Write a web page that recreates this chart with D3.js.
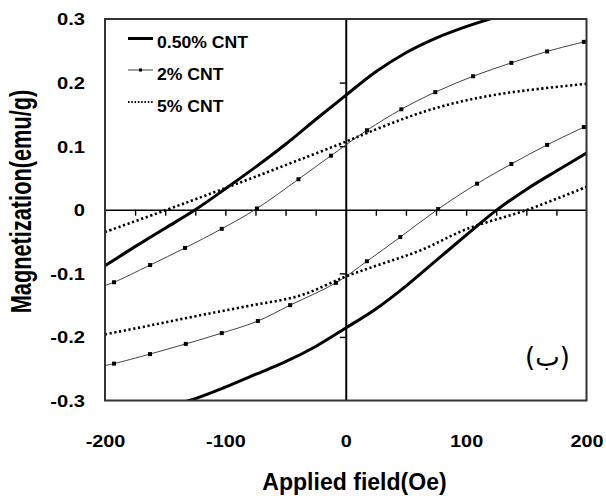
<!DOCTYPE html>
<html><head><meta charset="utf-8">
<script src="https://cdn.jsdelivr.net/npm/d3@7"></script>
<style>html,body{margin:0;padding:0;background:#fff;} svg{display:block;}</style>
</head><body>
<svg id="chart" width="606" height="496"></svg>
<script>
// ---------- data ----------
const seriesLabels = ["0.50% CNT", "2% CNT", "5% CNT"];
const xTickLabels = [-200, -100, 0, 100, 200];
const yTickLabels = [-0.3, -0.2, -0.1, 0, 0.1, 0.2, 0.3];
const xMinorTicks = [-175, -150, -125, -100, -75, -50, -25, 25, 50, 75, 100, 125, 150, 175];
const yAxisTicks = [-0.2, -0.1, 0.1, 0.2];
const xTitle = "Applied field(Oe)";
const yTitle = "Magnetization(emu/g)";
const panelLabel = "(ب)";

const cnt05UpField = [-200, -175, -150, -125, -100, -75, -50, -25, 0, 25, 50, 75, 100, 125, 150];
const cnt05UpMag   = [-0.088, -0.058, -0.029, 0, 0.033, 0.067, 0.103, 0.142, 0.18, 0.217, 0.247, 0.27, 0.288, 0.303, 0.316];
const cnt05LowField = [-150, -125, -100, -75, -50, -25, 0, 25, 50, 75, 100, 125, 150, 175, 200];
const cnt05LowMag   = [-0.31, -0.297, -0.279, -0.259, -0.239, -0.215, -0.186, -0.156, -0.12, -0.08, -0.04, -0.001, 0.032, 0.061, 0.089];

const cnt2UpField = [-200, -192.5, -162.5, -133.5, -103, -73.8, -39.3, -12.3, 17.6, 46.2, 74.4, 105.8, 137.6, 167.3, 197.8, 200];
const cnt2UpMag   = [-0.119, -0.114, -0.087, -0.06, -0.03, 0.002, 0.048, 0.085, 0.125, 0.158, 0.185, 0.21, 0.231, 0.249, 0.264, 0.265];
const cnt2LowField = [-200, -192.5, -162.6, -132.9, -103, -73, -46.2, -8.2, 17.6, 45.3, 76.7, 109.1, 137.6, 167.3, 197.8, 200];
const cnt2LowMag   = [-0.245, -0.242, -0.227, -0.211, -0.194, -0.175, -0.15, -0.115, -0.081, -0.043, 0.001, 0.041, 0.072, 0.102, 0.13, 0.132];

const cnt5UpField = [-200, -150, -110, -75, -38, 0, 18, 45, 73, 100, 128, 160, 200];
const cnt5UpMag   = [-0.035, -0.001, 0.027, 0.052, 0.079, 0.107, 0.121, 0.141, 0.159, 0.172, 0.182, 0.19, 0.198];
const cnt5LowField = [-200, -160, -121, -80, -38, 0, 30, 62, 101, 151, 200];
const cnt5LowMag   = [-0.196, -0.181, -0.166, -0.151, -0.135, -0.105, -0.085, -0.064, -0.03, 0, 0.036];

// ---------- layout ----------
const L = 105, R = 586.5, T = 19, B = 400.5;
const svg = d3.select("#chart");
const x = d3.scaleLinear().domain([-200, 200]).range([L, R]);
const y = d3.scaleLinear().domain([-0.3, 0.3]).range([B, T]);
const FONT = "'Liberation Sans', Arial, sans-serif";
const hy = s => String(s).replace("\u2212", "-");

function stretch(sel, factor) {
  sel.each(function () {
    const w = this.getComputedTextLength();
    d3.select(this).attr("textLength", w * factor).attr("lengthAdjust", "spacingAndGlyphs");
  });
}

svg.append("defs").append("clipPath").attr("id", "plotclip")
  .append("rect").attr("x", L).attr("y", T).attr("width", R - L).attr("height", B - T);

// zero axes with ticks
const gx0 = svg.append("g").attr("transform", `translate(0,${y(0)})`)
  .call(d3.axisBottom(x).tickValues(xMinorTicks).tickSizeInner(6).tickSizeOuter(0).tickFormat(""));
gx0.select(".domain").attr("stroke", "#000").attr("stroke-width", 1.6);
gx0.selectAll(".tick line").attr("stroke", "#000").attr("stroke-width", 1.4);

const gy0 = svg.append("g").attr("transform", `translate(${x(0)},0)`)
  .call(d3.axisLeft(y).tickValues(yAxisTicks).tickSizeInner(6).tickSizeOuter(0).tickFormat(""));
gy0.select(".domain").attr("stroke", "#000").attr("stroke-width", 2);
gy0.selectAll(".tick line").attr("stroke", "#000").attr("stroke-width", 1.4);

// curves
const lineGen = d3.line().x(d => x(d[0])).y(d => y(d[1])).curve(d3.curveCatmullRom.alpha(0.5));
const pairs = (a, b) => a.map((v, i) => [v, b[i]]);
const plot = svg.append("g").attr("clip-path", "url(#plotclip)");

const series = [
  { branches: [pairs(cnt05UpField, cnt05UpMag), pairs(cnt05LowField, cnt05LowMag)], width: 3, dash: null, color: "#000", markers: false },
  { branches: [pairs(cnt2UpField, cnt2UpMag), pairs(cnt2LowField, cnt2LowMag)], width: 1, dash: null, color: "#444", markers: true },
  { branches: [pairs(cnt5UpField, cnt5UpMag), pairs(cnt5LowField, cnt5LowMag)], width: 2.6, dash: "2.2,2.6", color: "#000", markers: false }
];

series.forEach(s => {
  s.branches.forEach(br => {
    plot.append("path").attr("d", lineGen(br)).attr("fill", "none")
      .attr("stroke", s.color).attr("stroke-width", s.width)
      .attr("stroke-dasharray", s.dash);
    if (s.markers) {
      plot.selectAll(null).data(br.filter(d => Math.abs(d[0]) < 200)).enter().append("rect")
        .attr("x", d => x(d[0]) - 2).attr("y", d => y(d[1]) - 2)
        .attr("width", 4).attr("height", 4).attr("fill", "#000");
    }
  });
});

// frame
svg.append("rect").attr("x", L).attr("y", T).attr("width", R - L).attr("height", B - T)
  .attr("fill", "none").attr("stroke", "#333").attr("stroke-width", 2);

// tick labels
const gxl = svg.append("g").attr("transform", `translate(0,${B})`)
  .call(d3.axisBottom(x).tickValues(xTickLabels).tickSize(0).tickPadding(0).tickFormat(d => hy(d3.format("d")(d))));
gxl.select(".domain").remove();
gxl.selectAll("text").attr("font-family", FONT).attr("font-weight", "bold").attr("font-size", 16.5)
  .attr("fill", "#000").attr("dy", null).attr("y", 46.5).call(stretch, 1.2);

const gyl = svg.append("g").attr("transform", `translate(${L},0)`)
  .call(d3.axisLeft(y).tickValues(yTickLabels).tickSize(0).tickPadding(0).tickFormat(d => d === 0 ? "0" : hy(d3.format(".1f")(d))));
gyl.select(".domain").remove();
gyl.selectAll("text").attr("font-family", FONT).attr("font-weight", "bold").attr("font-size", 16.5)
  .attr("fill", "#000").attr("x", -20).attr("dy", "0.36em").call(stretch, 1.22);

// axis titles
svg.append("text").attr("x", 354.5).attr("y", 490).attr("text-anchor", "middle")
  .attr("font-family", FONT).attr("font-weight", "bold").attr("font-size", 24).text(xTitle).call(stretch, 0.96);
svg.append("text").attr("transform", `translate(31,${201.5}) rotate(-90)`).attr("text-anchor", "middle")
  .attr("font-family", FONT).attr("font-weight", "bold").attr("font-size", 29).text(yTitle).call(stretch, 0.75);

// panel label
svg.append("text").attr("x", 547.5).attr("y", 366).attr("text-anchor", "middle").attr("direction", "ltr")
  .attr("font-family", "'DejaVu Sans', sans-serif").attr("font-size", 26).text(panelLabel);

// legend
const legendRows = [
  { label: seriesLabels[0], width: 3, dash: null, color: "#000", marker: false },
  { label: seriesLabels[1], width: 1, dash: null, color: "#444", marker: true },
  { label: seriesLabels[2], width: 2, dash: "1.5,1.8", color: "#000", marker: false }
];
const lineY = [38.5, 70, 102], textY = [48.3, 80, 111.7];
legendRows.forEach((r, i) => {
  svg.append("line").attr("x1", 128).attr("x2", 153).attr("y1", lineY[i]).attr("y2", lineY[i])
    .attr("stroke", r.color).attr("stroke-width", r.width).attr("stroke-dasharray", r.dash);
  if (r.marker) svg.append("rect").attr("x", 139).attr("y", lineY[i] - 1.5).attr("width", 3).attr("height", 3).attr("fill", "#000");
  svg.append("text").attr("x", 157).attr("y", textY[i]).attr("font-family", FONT).attr("font-weight", "bold")
    .attr("font-size", 16).text(r.label).call(stretch, 1.1);
});
</script>
</body></html>
